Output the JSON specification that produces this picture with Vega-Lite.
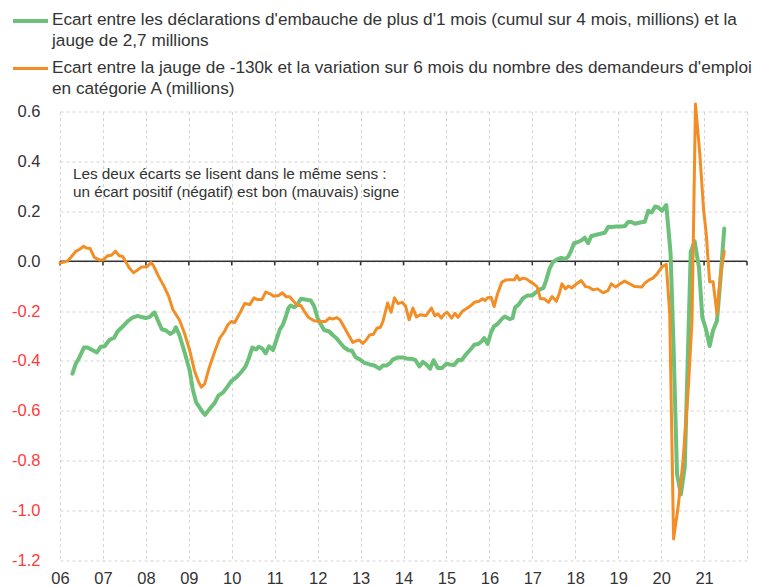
{
  "$schema": "https://vega.github.io/schema/vega-lite/v6.json",
  "width": 687,
  "height": 449,
  "autosize": {"type": "none"},
  "padding": {"left": 60, "top": 111.5, "right": 10, "bottom": 26.5},
  "background": "white",
  "config": {"view": {"stroke": null}, "font": "Liberation Sans"},
  "datasets": {
    "ticks": [{"yr":2006},{"yr":2007},{"yr":2008},{"yr":2009},{"yr":2010},{"yr":2011},{"yr":2012},{"yr":2013},{"yr":2014},{"yr":2015},{"yr":2016},{"yr":2017},{"yr":2018},{"yr":2019},{"yr":2020},{"yr":2021},{"yr":2022}],
    "series": [
      {"s":"A","t":2006.29,"v":-0.451},{"s":"A","t":2006.37,"v":-0.41},{"s":"A","t":2006.44,"v":-0.39},{"s":"A","t":2006.56,"v":-0.346},{"s":"A","t":2006.64,"v":-0.346},{"s":"A","t":2006.76,"v":-0.357},{"s":"A","t":2006.86,"v":-0.366},{"s":"A","t":2006.95,"v":-0.343},{"s":"A","t":2007.04,"v":-0.341},{"s":"A","t":2007.15,"v":-0.316},{"s":"A","t":2007.26,"v":-0.307},{"s":"A","t":2007.34,"v":-0.282},{"s":"A","t":2007.46,"v":-0.262},{"s":"A","t":2007.57,"v":-0.242},{"s":"A","t":2007.69,"v":-0.226},{"s":"A","t":2007.81,"v":-0.219},{"s":"A","t":2007.9,"v":-0.224},{"s":"A","t":2008.0,"v":-0.228},{"s":"A","t":2008.1,"v":-0.222},{"s":"A","t":2008.2,"v":-0.205},{"s":"A","t":2008.29,"v":-0.242},{"s":"A","t":2008.37,"v":-0.273},{"s":"A","t":2008.47,"v":-0.278},{"s":"A","t":2008.57,"v":-0.292},{"s":"A","t":2008.65,"v":-0.282},{"s":"A","t":2008.7,"v":-0.265},{"s":"A","t":2008.78,"v":-0.296},{"s":"A","t":2008.9,"v":-0.364},{"s":"A","t":2009.02,"v":-0.438},{"s":"A","t":2009.09,"v":-0.512},{"s":"A","t":2009.17,"v":-0.566},{"s":"A","t":2009.25,"v":-0.586},{"s":"A","t":2009.33,"v":-0.607},{"s":"A","t":2009.38,"v":-0.616},{"s":"A","t":2009.48,"v":-0.593},{"s":"A","t":2009.6,"v":-0.569},{"s":"A","t":2009.69,"v":-0.539},{"s":"A","t":2009.8,"v":-0.526},{"s":"A","t":2009.9,"v":-0.503},{"s":"A","t":2009.99,"v":-0.481},{"s":"A","t":2010.11,"v":-0.465},{"s":"A","t":2010.22,"v":-0.445},{"s":"A","t":2010.32,"v":-0.422},{"s":"A","t":2010.4,"v":-0.388},{"s":"A","t":2010.48,"v":-0.346},{"s":"A","t":2010.57,"v":-0.354},{"s":"A","t":2010.63,"v":-0.343},{"s":"A","t":2010.71,"v":-0.35},{"s":"A","t":2010.79,"v":-0.37},{"s":"A","t":2010.87,"v":-0.341},{"s":"A","t":2010.96,"v":-0.357},{"s":"A","t":2011.04,"v":-0.316},{"s":"A","t":2011.12,"v":-0.273},{"s":"A","t":2011.19,"v":-0.255},{"s":"A","t":2011.26,"v":-0.222},{"s":"A","t":2011.32,"v":-0.188},{"s":"A","t":2011.37,"v":-0.178},{"s":"A","t":2011.45,"v":-0.185},{"s":"A","t":2011.53,"v":-0.174},{"s":"A","t":2011.61,"v":-0.151},{"s":"A","t":2011.71,"v":-0.154},{"s":"A","t":2011.84,"v":-0.158},{"s":"A","t":2011.92,"v":-0.181},{"s":"A","t":2012.0,"v":-0.228},{"s":"A","t":2012.08,"v":-0.255},{"s":"A","t":2012.15,"v":-0.276},{"s":"A","t":2012.27,"v":-0.282},{"s":"A","t":2012.35,"v":-0.296},{"s":"A","t":2012.44,"v":-0.309},{"s":"A","t":2012.54,"v":-0.33},{"s":"A","t":2012.62,"v":-0.346},{"s":"A","t":2012.72,"v":-0.357},{"s":"A","t":2012.8,"v":-0.359},{"s":"A","t":2012.88,"v":-0.384},{"s":"A","t":2012.97,"v":-0.393},{"s":"A","t":2013.09,"v":-0.408},{"s":"A","t":2013.21,"v":-0.414},{"s":"A","t":2013.32,"v":-0.418},{"s":"A","t":2013.44,"v":-0.431},{"s":"A","t":2013.52,"v":-0.418},{"s":"A","t":2013.61,"v":-0.418},{"s":"A","t":2013.67,"v":-0.411},{"s":"A","t":2013.75,"v":-0.395},{"s":"A","t":2013.87,"v":-0.386},{"s":"A","t":2013.99,"v":-0.386},{"s":"A","t":2014.08,"v":-0.391},{"s":"A","t":2014.18,"v":-0.391},{"s":"A","t":2014.28,"v":-0.397},{"s":"A","t":2014.37,"v":-0.422},{"s":"A","t":2014.45,"v":-0.404},{"s":"A","t":2014.53,"v":-0.414},{"s":"A","t":2014.62,"v":-0.431},{"s":"A","t":2014.7,"v":-0.397},{"s":"A","t":2014.8,"v":-0.428},{"s":"A","t":2014.9,"v":-0.428},{"s":"A","t":2015.0,"v":-0.411},{"s":"A","t":2015.08,"v":-0.414},{"s":"A","t":2015.18,"v":-0.416},{"s":"A","t":2015.27,"v":-0.396},{"s":"A","t":2015.35,"v":-0.397},{"s":"A","t":2015.45,"v":-0.375},{"s":"A","t":2015.57,"v":-0.352},{"s":"A","t":2015.65,"v":-0.335},{"s":"A","t":2015.74,"v":-0.332},{"s":"A","t":2015.82,"v":-0.321},{"s":"A","t":2015.88,"v":-0.308},{"s":"A","t":2015.96,"v":-0.332},{"s":"A","t":2016.04,"v":-0.285},{"s":"A","t":2016.11,"v":-0.261},{"s":"A","t":2016.19,"v":-0.252},{"s":"A","t":2016.29,"v":-0.232},{"s":"A","t":2016.36,"v":-0.222},{"s":"A","t":2016.47,"v":-0.232},{"s":"A","t":2016.54,"v":-0.228},{"s":"A","t":2016.6,"v":-0.185},{"s":"A","t":2016.68,"v":-0.174},{"s":"A","t":2016.78,"v":-0.149},{"s":"A","t":2016.88,"v":-0.138},{"s":"A","t":2016.99,"v":-0.138},{"s":"A","t":2017.09,"v":-0.124},{"s":"A","t":2017.17,"v":-0.114},{"s":"A","t":2017.26,"v":-0.107},{"s":"A","t":2017.32,"v":-0.078},{"s":"A","t":2017.4,"v":-0.031},{"s":"A","t":2017.48,"v":-0.004},{"s":"A","t":2017.58,"v":0.007},{"s":"A","t":2017.67,"v":0.013},{"s":"A","t":2017.77,"v":0.009},{"s":"A","t":2017.84,"v":0.019},{"s":"A","t":2017.89,"v":0.036},{"s":"A","t":2017.97,"v":0.072},{"s":"A","t":2018.05,"v":0.076},{"s":"A","t":2018.14,"v":0.083},{"s":"A","t":2018.22,"v":0.094},{"s":"A","t":2018.3,"v":0.072},{"s":"A","t":2018.37,"v":0.1},{"s":"A","t":2018.49,"v":0.106},{"s":"A","t":2018.59,"v":0.11},{"s":"A","t":2018.69,"v":0.114},{"s":"A","t":2018.77,"v":0.138},{"s":"A","t":2018.84,"v":0.137},{"s":"A","t":2018.96,"v":0.139},{"s":"A","t":2019.08,"v":0.139},{"s":"A","t":2019.16,"v":0.141},{"s":"A","t":2019.23,"v":0.157},{"s":"A","t":2019.31,"v":0.157},{"s":"A","t":2019.39,"v":0.15},{"s":"A","t":2019.51,"v":0.155},{"s":"A","t":2019.62,"v":0.158},{"s":"A","t":2019.7,"v":0.202},{"s":"A","t":2019.78,"v":0.195},{"s":"A","t":2019.86,"v":0.219},{"s":"A","t":2019.93,"v":0.216},{"s":"A","t":2020.02,"v":0.202},{"s":"A","t":2020.12,"v":0.225},{"s":"A","t":2020.22,"v":0.031},{"s":"A","t":2020.29,"v":-0.344},{"s":"A","t":2020.37,"v":-0.853},{"s":"A","t":2020.46,"v":-0.935},{"s":"A","t":2020.55,"v":-0.826},{"s":"A","t":2020.69,"v":0.037},{"s":"A","t":2020.78,"v":0.08},{"s":"A","t":2020.88,"v":-0.023},{"s":"A","t":2020.96,"v":-0.226},{"s":"A","t":2021.04,"v":-0.27},{"s":"A","t":2021.13,"v":-0.34},{"s":"A","t":2021.21,"v":-0.277},{"s":"A","t":2021.3,"v":-0.24},{"s":"A","t":2021.38,"v":-0.076},{"s":"A","t":2021.47,"v":0.131},
      {"s":"B","t":2006.0,"v":-0.008},{"s":"B","t":2006.17,"v":0.0},{"s":"B","t":2006.25,"v":0.015},{"s":"B","t":2006.37,"v":0.04},{"s":"B","t":2006.44,"v":0.045},{"s":"B","t":2006.55,"v":0.06},{"s":"B","t":2006.62,"v":0.053},{"s":"B","t":2006.7,"v":0.051},{"s":"B","t":2006.8,"v":0.015},{"s":"B","t":2006.91,"v":0.005},{"s":"B","t":2007.01,"v":0.005},{"s":"B","t":2007.11,"v":0.022},{"s":"B","t":2007.2,"v":0.024},{"s":"B","t":2007.29,"v":0.04},{"s":"B","t":2007.38,"v":0.022},{"s":"B","t":2007.46,"v":0.019},{"s":"B","t":2007.54,"v":-0.005},{"s":"B","t":2007.61,"v":-0.026},{"s":"B","t":2007.71,"v":-0.046},{"s":"B","t":2007.81,"v":-0.035},{"s":"B","t":2007.9,"v":-0.023},{"s":"B","t":2008.03,"v":-0.022},{"s":"B","t":2008.12,"v":-0.005},{"s":"B","t":2008.18,"v":-0.019},{"s":"B","t":2008.29,"v":-0.059},{"s":"B","t":2008.42,"v":-0.1},{"s":"B","t":2008.53,"v":-0.14},{"s":"B","t":2008.63,"v":-0.195},{"s":"B","t":2008.78,"v":-0.235},{"s":"B","t":2008.9,"v":-0.289},{"s":"B","t":2009.02,"v":-0.357},{"s":"B","t":2009.13,"v":-0.438},{"s":"B","t":2009.23,"v":-0.485},{"s":"B","t":2009.29,"v":-0.505},{"s":"B","t":2009.37,"v":-0.492},{"s":"B","t":2009.48,"v":-0.424},{"s":"B","t":2009.6,"v":-0.364},{"s":"B","t":2009.72,"v":-0.309},{"s":"B","t":2009.83,"v":-0.282},{"s":"B","t":2009.91,"v":-0.255},{"s":"B","t":2009.99,"v":-0.242},{"s":"B","t":2010.07,"v":-0.246},{"s":"B","t":2010.19,"v":-0.208},{"s":"B","t":2010.3,"v":-0.17},{"s":"B","t":2010.42,"v":-0.174},{"s":"B","t":2010.52,"v":-0.147},{"s":"B","t":2010.6,"v":-0.154},{"s":"B","t":2010.7,"v":-0.154},{"s":"B","t":2010.79,"v":-0.124},{"s":"B","t":2010.88,"v":-0.13},{"s":"B","t":2010.98,"v":-0.141},{"s":"B","t":2011.09,"v":-0.138},{"s":"B","t":2011.18,"v":-0.127},{"s":"B","t":2011.27,"v":-0.143},{"s":"B","t":2011.35,"v":-0.143},{"s":"B","t":2011.44,"v":-0.161},{"s":"B","t":2011.53,"v":-0.178},{"s":"B","t":2011.61,"v":-0.178},{"s":"B","t":2011.69,"v":-0.201},{"s":"B","t":2011.79,"v":-0.226},{"s":"B","t":2011.92,"v":-0.239},{"s":"B","t":2012.04,"v":-0.242},{"s":"B","t":2012.18,"v":-0.242},{"s":"B","t":2012.27,"v":-0.228},{"s":"B","t":2012.35,"v":-0.232},{"s":"B","t":2012.44,"v":-0.226},{"s":"B","t":2012.52,"v":-0.235},{"s":"B","t":2012.62,"v":-0.265},{"s":"B","t":2012.72,"v":-0.296},{"s":"B","t":2012.82,"v":-0.326},{"s":"B","t":2012.91,"v":-0.319},{"s":"B","t":2012.97,"v":-0.316},{"s":"B","t":2013.05,"v":-0.33},{"s":"B","t":2013.13,"v":-0.316},{"s":"B","t":2013.21,"v":-0.296},{"s":"B","t":2013.3,"v":-0.293},{"s":"B","t":2013.38,"v":-0.269},{"s":"B","t":2013.46,"v":-0.265},{"s":"B","t":2013.52,"v":-0.242},{"s":"B","t":2013.58,"v":-0.201},{"s":"B","t":2013.63,"v":-0.168},{"s":"B","t":2013.71,"v":-0.205},{"s":"B","t":2013.79,"v":-0.147},{"s":"B","t":2013.87,"v":-0.17},{"s":"B","t":2013.97,"v":-0.165},{"s":"B","t":2014.05,"v":-0.181},{"s":"B","t":2014.13,"v":-0.235},{"s":"B","t":2014.22,"v":-0.188},{"s":"B","t":2014.3,"v":-0.224},{"s":"B","t":2014.39,"v":-0.215},{"s":"B","t":2014.52,"v":-0.219},{"s":"B","t":2014.65,"v":-0.188},{"s":"B","t":2014.73,"v":-0.219},{"s":"B","t":2014.8,"v":-0.211},{"s":"B","t":2014.88,"v":-0.228},{"s":"B","t":2014.95,"v":-0.212},{"s":"B","t":2015.02,"v":-0.205},{"s":"B","t":2015.12,"v":-0.228},{"s":"B","t":2015.2,"v":-0.209},{"s":"B","t":2015.27,"v":-0.225},{"s":"B","t":2015.37,"v":-0.201},{"s":"B","t":2015.48,"v":-0.189},{"s":"B","t":2015.57,"v":-0.178},{"s":"B","t":2015.65,"v":-0.165},{"s":"B","t":2015.76,"v":-0.161},{"s":"B","t":2015.84,"v":-0.151},{"s":"B","t":2015.9,"v":-0.158},{"s":"B","t":2015.96,"v":-0.147},{"s":"B","t":2016.04,"v":-0.145},{"s":"B","t":2016.11,"v":-0.182},{"s":"B","t":2016.19,"v":-0.131},{"s":"B","t":2016.29,"v":-0.084},{"s":"B","t":2016.39,"v":-0.075},{"s":"B","t":2016.5,"v":-0.074},{"s":"B","t":2016.58,"v":-0.075},{"s":"B","t":2016.64,"v":-0.058},{"s":"B","t":2016.7,"v":-0.075},{"s":"B","t":2016.78,"v":-0.068},{"s":"B","t":2016.86,"v":-0.071},{"s":"B","t":2016.93,"v":-0.08},{"s":"B","t":2017.03,"v":-0.091},{"s":"B","t":2017.11,"v":-0.102},{"s":"B","t":2017.19,"v":-0.151},{"s":"B","t":2017.28,"v":-0.151},{"s":"B","t":2017.38,"v":-0.165},{"s":"B","t":2017.46,"v":-0.142},{"s":"B","t":2017.56,"v":-0.161},{"s":"B","t":2017.63,"v":-0.129},{"s":"B","t":2017.69,"v":-0.091},{"s":"B","t":2017.77,"v":-0.111},{"s":"B","t":2017.84,"v":-0.1},{"s":"B","t":2017.92,"v":-0.107},{"s":"B","t":2018.05,"v":-0.088},{"s":"B","t":2018.14,"v":-0.078},{"s":"B","t":2018.24,"v":-0.102},{"s":"B","t":2018.31,"v":-0.104},{"s":"B","t":2018.41,"v":-0.115},{"s":"B","t":2018.52,"v":-0.111},{"s":"B","t":2018.65,"v":-0.127},{"s":"B","t":2018.76,"v":-0.118},{"s":"B","t":2018.84,"v":-0.091},{"s":"B","t":2018.94,"v":-0.104},{"s":"B","t":2019.04,"v":-0.091},{"s":"B","t":2019.15,"v":-0.08},{"s":"B","t":2019.27,"v":-0.091},{"s":"B","t":2019.39,"v":-0.102},{"s":"B","t":2019.55,"v":-0.104},{"s":"B","t":2019.62,"v":-0.088},{"s":"B","t":2019.72,"v":-0.075},{"s":"B","t":2019.81,"v":-0.068},{"s":"B","t":2019.91,"v":-0.05},{"s":"B","t":2020.02,"v":-0.023},{"s":"B","t":2020.12,"v":-0.013},{"s":"B","t":2020.2,"v":-0.21},{"s":"B","t":2020.29,"v":-1.114},{"s":"B","t":2020.4,"v":-0.98},{"s":"B","t":2020.51,"v":-0.8},{"s":"B","t":2020.63,"v":-0.518},{"s":"B","t":2020.72,"v":-0.237},{"s":"B","t":2020.8,"v":0.63},{"s":"B","t":2020.9,"v":0.432},{"s":"B","t":2020.99,"v":0.205},{"s":"B","t":2021.05,"v":0.111},{"s":"B","t":2021.13,"v":-0.083},{"s":"B","t":2021.21,"v":-0.083},{"s":"B","t":2021.3,"v":-0.21},{"s":"B","t":2021.38,"v":-0.063},{"s":"B","t":2021.47,"v":0.04}
    ]
  },
  "layer": [
    {
      "data": {"values": [{}]},
      "mark": {"type": "rule", "color": "#333333", "strokeWidth": 1.5},
      "encoding": {
        "y": {"datum": 0, "type": "quantitative"}
      }
    },
    {
      "data": {"name": "ticks"},
      "mark": {"type": "rule", "color": "#333333", "strokeWidth": 1.5},
      "encoding": {
        "x": {"field": "yr", "type": "quantitative"},
        "y": {"datum": 0, "type": "quantitative"},
        "y2": {"datum": -0.017}
      }
    },
    {
      "data": {"name": "series"},
      "mark": {"type": "line", "strokeJoin": "round", "strokeCap": "round"},
      "encoding": {
        "x": {
          "field": "t", "type": "quantitative",
          "scale": {"domain": [2006, 2022], "nice": false, "zero": false},
          "axis": {
            "title": null, "values": [2006,2007,2008,2009,2010,2011,2012,2013,2014,2015,2016,2017,2018,2019,2020,2021,2022],
            "labelExpr": "datum.value < 2022 ? slice(toString(datum.value), 2) : ''",
            "grid": true, "gridDash": [3, 3], "gridColor": "#d4d4d4", "gridWidth": 1,
            "domain": false, "ticks": false, "labelPadding": 10, "labelFlush": false, "labelOverlap": false,
            "labelFontSize": 16.5, "labelColor": "#333333", "labelFont": "Liberation Sans"
          }
        },
        "y": {
          "field": "v", "type": "quantitative",
          "scale": {"domain": [-1.2, 0.6], "nice": false, "zero": false},
          "axis": {
            "title": null, "values": [-1.2,-1.0,-0.8,-0.6,-0.4,-0.2,0,0.2,0.4,0.6],
            "labelExpr": "replace(format(datum.value, '.1f'), '\u2212', '-')",
            "labelColor": {"condition": {"test": "datum.value < 0", "value": "#ff3b3b"}, "value": "#333333"},
            "grid": true, "gridDash": [3, 3], "gridColor": "#d4d4d4", "gridWidth": 1,
            "domain": false, "ticks": false, "labelPadding": 20, "labelOverlap": false,
            "labelFontSize": 16.5, "labelFont": "Liberation Sans"
          }
        },
        "color": {
          "field": "s", "type": "nominal",
          "scale": {"domain": ["A", "B"], "range": ["#6cc079", "#f28e25"]},
          "legend": {
            "orient": "none", "legendX": -49, "legendY": -110, "direction": "vertical", "title": null,
            "symbolType": "stroke", "symbolSize": 1225, "symbolStrokeWidth": 3,
            "labelFontSize": 17.2, "labelColor": "#333333", "labelFont": "Liberation Sans", "labelLimit": 900,
            "labelOffset": 2, "labelBaseline": "top", "rowPadding": -4, "padding": 0,
            "labelExpr": "datum.label == 'A' ? [\"Ecart entre les déclarations d'embauche de plus d'1 mois (cumul sur 4 mois, millions) et la\", \"jauge de 2,7 millions\"] : [\"Ecart entre la jauge de -130k et la  variation sur 6 mois du nombre des demandeurs d'emploi\", \"en catégorie A (millions)\"]",
            "encode": {"labels": {"update": {"dy": {"value": -10}, "lineHeight": {"value": 21}}}}
          }
        },
        "strokeWidth": {
          "field": "s", "type": "nominal",
          "scale": {"domain": ["A", "B"], "range": [4, 3]},
          "legend": null
        }
      }
    },
    {
      "data": {"values": [{}]},
      "mark": {"type": "text", "align": "left", "baseline": "top", "fontSize": 15.3, "lineHeight": 18, "color": "#333333", "font": "Liberation Sans"},
      "encoding": {
        "x": {"datum": 2006.3, "type": "quantitative"},
        "y": {"datum": 0.376, "type": "quantitative"},
        "text": {"value": ["Les deux écarts se lisent dans le même sens :", "un écart positif (négatif) est bon (mauvais) signe"]}
      }
    }
  ]
}
